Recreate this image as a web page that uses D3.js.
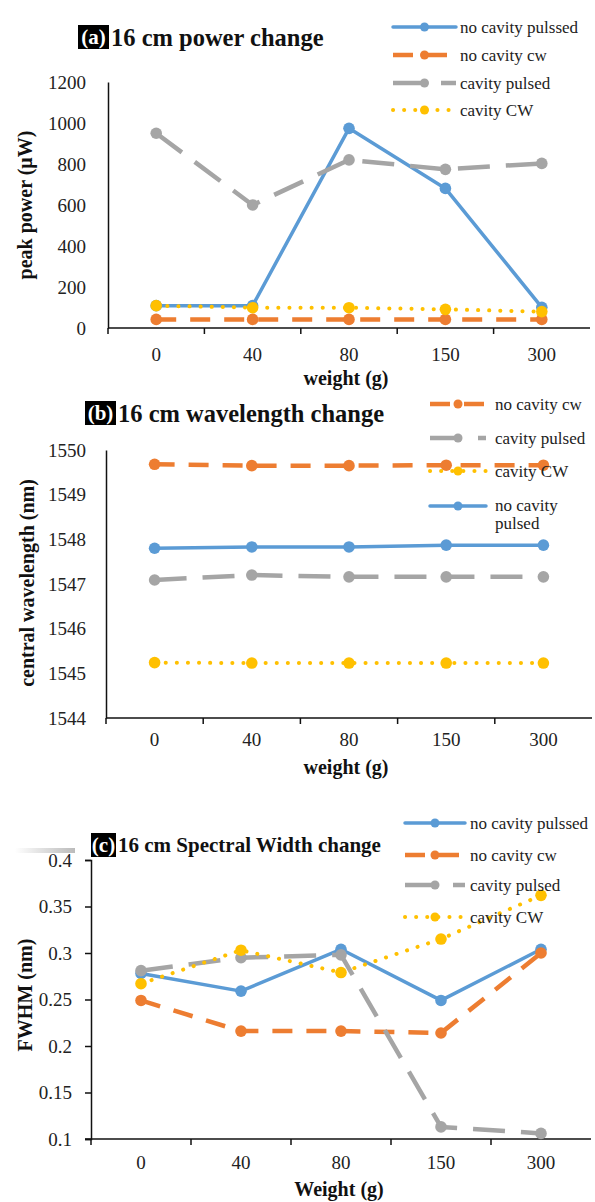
<!DOCTYPE html>
<html>
<head>
<meta charset="utf-8">
<script src="https://cdn.jsdelivr.net/npm/d3@7"></script>
<style>
  body { margin: 0; background: #fff; }
  svg text { font-family: "Liberation Serif", "Times New Roman", serif; }
</style>
</head>
<body>
<svg id="chart" width="595" height="1202"></svg>
<script>
// categories
const weights = ['0', '40', '80', '150', '300']

// (a) peak power, uW
const powerNoCavityPulsed = [109, 109, 974, 681, 101]
const powerNoCavityCw = [42, 42, 42, 42, 42]
const powerCavityPulsed = [950, 600, 820, 774, 803]
const powerCavityCw = [109, 99, 99, 91, 80]
const powerTicks = [0, 200, 400, 600, 800, 1000, 1200]

// (b) central wavelength, nm
const waveNoCavityCw = [1549.68, 1549.65, 1549.65, 1549.66, 1549.66]
const waveCavityPulsed = [1547.09, 1547.20, 1547.16, 1547.16, 1547.16]
const waveCavityCw = [1545.24, 1545.23, 1545.23, 1545.23, 1545.23]
const waveNoCavityPulsed = [1547.80, 1547.83, 1547.83, 1547.87, 1547.87]
const waveTicks = [1544, 1545, 1546, 1547, 1548, 1549, 1550]

// (c) FWHM, nm
const fwhmNoCavityPulsed = [0.278, 0.259, 0.304, 0.249, 0.304]
const fwhmNoCavityCw = [0.249, 0.216, 0.216, 0.214, 0.300]
const fwhmCavityPulsed = [0.281, 0.295, 0.298, 0.113, 0.106]
const fwhmCavityCw = [0.267, 0.303, 0.279, 0.315, 0.362]
const fwhmTicks = [0.1, 0.15, 0.2, 0.25, 0.3, 0.35, 0.4]

let styles = {
    blue:   { color: '#5b9bd5', width: 3.5, dash: null, cap: 'round' },
    orange: { color: '#ed7d31', width: 4.5, dash: '20 14', cap: 'butt' },
    gray:   { color: '#a5a5a5', width: 4.5, dash: '32 16', cap: 'butt' },
    yellow: { color: '#ffc000', width: 4, dash: '0.1 11', cap: 'round' },
}

const serif = '"Liberation Serif", "Times New Roman", serif'
const svg = d3.select('#chart')

function drawPanel(p) {
    let g = svg.append('g')
    let x = d3.scaleBand().domain(weights).range([p.x0, p.x1]).padding(0)
    let y = d3.scaleLinear().domain([p.ticks[0], p.ticks[p.ticks.length - 1]]).range([p.yBottom, p.yTop])
    let cx = (d) => x(d) + x.bandwidth() / 2

    // y axis
    let yAxis = d3.axisLeft(y).tickValues(p.ticks).tickSize(p.yTick).tickPadding(p.yPad)
        .tickFormat(p.fmt)
    let ya = g.append('g').attr('transform', `translate(${p.x0},0)`).call(yAxis)
    ya.select('.domain').attr('stroke', '#111').attr('stroke-width', 1.5)
    ya.selectAll('.tick line').attr('stroke', '#111').attr('stroke-width', 1.5)
    ya.selectAll('.tick text').style('font-size', '19px').style('font-family', serif)
        .attr('fill', '#222')

    // x axis: labels under band centres, ticks on band edges
    let xa = g.append('g').attr('transform', `translate(0,${p.yBottom})`)
        .call(d3.axisBottom(x).tickSize(0).tickPadding(p.xPad))
    xa.select('.domain').remove()
    xa.selectAll('.tick text').style('font-size', '19px').style('font-family', serif)
        .attr('fill', '#222')
    g.append('line')
        .attr('x1', p.x0 - (p.yTick ? 6 : 0)).attr('x2', p.x1)
        .attr('y1', p.yBottom).attr('y2', p.yBottom)
        .attr('stroke', '#111').attr('stroke-width', 1.5)
    g.selectAll('line.xtick').data(weights).enter().append('line')
        .attr('class', 'xtick')
        .attr('x1', (d) => x(d)).attr('x2', (d) => x(d))
        .attr('y1', p.yBottom).attr('y2', p.yBottom + 6)
        .attr('stroke', '#111').attr('stroke-width', 1.5)

    // series
    p.series.forEach((s) => {
        let st = styles[s.style]
        let pts = s.values.map((v, i) => [cx(weights[i]), y(v)])
        g.append('path')
            .attr('d', d3.line()(pts))
            .attr('fill', 'none')
            .attr('stroke', st.color)
            .attr('stroke-width', st.width)
            .attr('stroke-dasharray', st.dash)
            .attr('stroke-linecap', st.cap)
            .attr('stroke-linejoin', 'round')
        g.selectAll(null).data(pts).enter().append('circle')
            .attr('cx', (d) => d[0]).attr('cy', (d) => d[1])
            .attr('r', 5.8).attr('fill', st.color)
    })

    // titles
    let t = g.append('g')
    t.append('rect').attr('x', p.boxX).attr('y', p.titleY - 12).attr('width', p.boxW).attr('height', 24)
        .attr('fill', '#000')
    t.append('text').attr('x', p.boxX + p.boxW / 2).attr('y', p.titleY).attr('dy', '0.35em')
        .attr('text-anchor', 'middle').attr('fill', '#fff')
        .style('font-size', '21px').style('font-weight', 'bold').text(p.tag)
    t.append('text').attr('x', p.boxX + p.boxW + 2).attr('y', p.titleY).attr('dy', '0.35em')
        .style('font-size', p.titleSize + 'px').style('font-weight', 'bold').attr('fill', '#111')
        .text(p.title)

    g.append('text')
        .attr('transform', `translate(${p.yTitleX},${p.yTitleY}) rotate(-90)`)
        .attr('text-anchor', 'middle').attr('dy', '0.35em')
        .style('font-size', '20px').style('font-weight', 'bold').attr('fill', '#111')
        .text(p.yTitle)
    g.append('text')
        .attr('x', p.xTitleX).attr('y', p.xTitleY).attr('dy', '0.35em')
        .attr('text-anchor', 'middle')
        .style('font-size', '20px').style('font-weight', 'bold').attr('fill', '#111')
        .text(p.xTitle)

    // legend
    let lg = g.append('g')
    p.legend.forEach((l, i) => {
        let st = styles[l.style]
        let ly = p.legendRows[i]
        let lineY = l.lines.length > 1 ? ly + 1 : ly
        lg.append('line')
            .attr('x1', p.legendX0).attr('x2', p.legendX1)
            .attr('y1', lineY).attr('y2', lineY)
            .attr('stroke', st.color).attr('stroke-width', st.width)
            .attr('stroke-dasharray', st.dash).attr('stroke-linecap', st.cap)
        lg.append('circle')
            .attr('cx', (p.legendX0 + p.legendX1) / 2).attr('cy', lineY)
            .attr('r', 4.5).attr('fill', st.color)
        l.lines.forEach((txt, j) => {
            lg.append('text')
                .attr('x', p.legendTextX).attr('y', ly + j * 18).attr('dy', '0.35em')
                .style('font-size', '17px').attr('fill', '#222')
                .text(txt)
        })
    })
}

drawPanel({
    x0: 108, x1: 590, yTop: 82, yBottom: 328, ticks: powerTicks,
    yTick: 0, yPad: 22, xPad: 20, fmt: d3.format('d'),
    series: [
        { style: 'blue', values: powerNoCavityPulsed },
        { style: 'orange', values: powerNoCavityCw },
        { style: 'gray', values: powerCavityPulsed },
        { style: 'yellow', values: powerCavityCw },
    ],
    tag: '(a)', title: '16 cm power change', boxX: 78, boxW: 31, titleY: 37, titleSize: 24.5,
    yTitle: 'peak power (μW)', yTitleX: 25, yTitleY: 205,
    xTitle: 'weight (g)', xTitleX: 346, xTitleY: 378,
    legendX0: 393, legendX1: 456, legendTextX: 460,
    legendRows: [27, 55, 83, 110],
    legend: [
        { style: 'blue', lines: ['no cavity pulssed'] },
        { style: 'orange', lines: ['no cavity cw'] },
        { style: 'gray', lines: ['cavity pulsed'] },
        { style: 'yellow', lines: ['cavity CW'] },
    ],
})

drawPanel({
    x0: 106, x1: 592, yTop: 450, yBottom: 718, ticks: waveTicks,
    yTick: 0, yPad: 20, xPad: 15, fmt: d3.format('d'),
    series: [
        { style: 'orange', values: waveNoCavityCw },
        { style: 'gray', values: waveCavityPulsed },
        { style: 'yellow', values: waveCavityCw },
        { style: 'blue', values: waveNoCavityPulsed },
    ],
    tag: '(b)', title: '16 cm wavelength change', boxX: 85, boxW: 31, titleY: 413, titleSize: 24.5,
    yTitle: 'central wavelength (nm)', yTitleX: 27, yTitleY: 583,
    xTitle: 'weight (g)', xTitleX: 346, xTitleY: 767,
    legendX0: 430, legendX1: 486, legendTextX: 495,
    legendRows: [404, 438, 471, 505],
    legend: [
        { style: 'orange', lines: ['no cavity cw'] },
        { style: 'gray', lines: ['cavity pulsed'] },
        { style: 'yellow', lines: ['cavity CW'] },
        { style: 'blue', lines: ['no cavity', 'pulsed'] },
    ],
})

// faint smudge left of the 0.4 label
let grad = svg.append('defs').append('linearGradient').attr('id', 'smudge')
grad.append('stop').attr('offset', '0%').attr('stop-color', '#fff')
grad.append('stop').attr('offset', '100%').attr('stop-color', '#bbb')
svg.append('rect').attr('x', 15).attr('y', 848).attr('width', 60).attr('height', 5)
    .attr('fill', 'url(#smudge)')

drawPanel({
    x0: 91, x1: 591, yTop: 860, yBottom: 1139, ticks: fwhmTicks,
    yTick: 6, yPad: 13, xPad: 17, fmt: (d) => String(+d.toFixed(2)),
    series: [
        { style: 'blue', values: fwhmNoCavityPulsed },
        { style: 'orange', values: fwhmNoCavityCw },
        { style: 'gray', values: fwhmCavityPulsed },
        { style: 'yellow', values: fwhmCavityCw },
    ],
    tag: '(c)', title: '16 cm Spectral Width change', boxX: 91, boxW: 25, titleY: 845, titleSize: 21,
    yTitle: 'FWHM (nm)', yTitleX: 25, yTitleY: 995,
    xTitle: 'Weight (g)', xTitleX: 339, xTitleY: 1189,
    legendX0: 405, legendX1: 465, legendTextX: 470,
    legendRows: [823, 855, 885, 917],
    legend: [
        { style: 'blue', lines: ['no cavity pulssed'] },
        { style: 'orange', lines: ['no cavity cw'] },
        { style: 'gray', lines: ['cavity pulsed'] },
        { style: 'yellow', lines: ['cavity CW'] },
    ],
})
</script>
</body>
</html>
